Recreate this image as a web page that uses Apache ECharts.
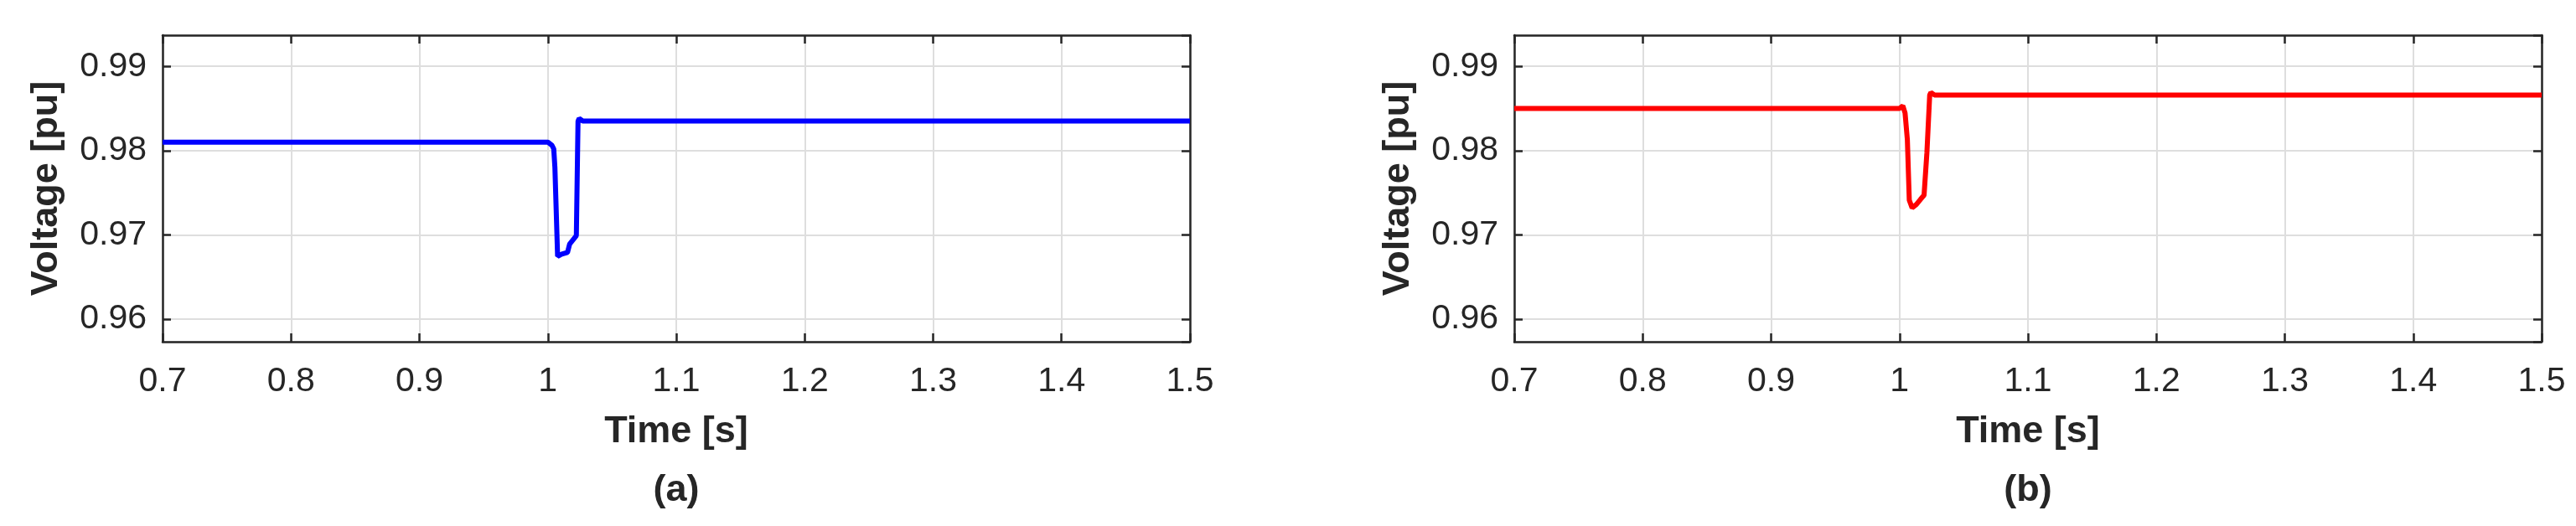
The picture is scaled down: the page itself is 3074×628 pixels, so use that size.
<!DOCTYPE html>
<html>
<head>
<meta charset="utf-8">
<script src="https://cdn.jsdelivr.net/npm/echarts@6/dist/echarts.min.js"></script>
<style>
html,body{margin:0;padding:0;background:#fff;}
#chart{width:3074px;height:628px;}
</style>
</head>
<body>
<div id="chart"></div>
<script>
// ---- data ----
const xTicks = [0.7, 0.8, 0.9, 1.0, 1.1, 1.2, 1.3, 1.4, 1.5];
const yTicks = [0.96, 0.97, 0.98, 0.99];
const panelLabels = ['(a)', '(b)'];
const xTitle = 'Time [s]';
const yTitle = 'Voltage [pu]';

const timeA = [0.7, 1.0, 1.0033, 1.0046, 1.0055, 1.0076, 1.0109, 1.0153, 1.0170, 1.0196, 1.0222, 1.0235, 1.0244, 1.0272, 1.5];
const voltA = [0.9810, 0.9810, 0.9806, 0.9802, 0.9780, 0.96745, 0.9677, 0.9679, 0.9689, 0.9694, 0.9699, 0.98348, 0.9838, 0.9835, 0.9835];

const timeB = [0.7, 1.0, 1.0026, 1.0043, 1.0061, 1.0076, 1.0098, 1.0131, 1.0163, 1.0191, 1.0213, 1.0235, 1.0244, 1.0272, 1.5];
const voltB = [0.9850, 0.9850, 0.9853, 0.98447, 0.9813, 0.9741, 0.9732, 0.9736, 0.9742, 0.9747, 0.9797, 0.9866, 0.9869, 0.9866, 0.9866];

const yMin = 0.9573, yMax = 0.9937;
const colors = ['#0000ff', '#ff0000'];

// ---- chart ----
const FONT = '"Liberation Sans", Arial, Helvetica, sans-serif';
const TXT = '#262626';
const chart = echarts.init(document.getElementById('chart'), null, {renderer: 'canvas'});

const grids = [
  {left: 194, top: 42, width: 1226, height: 366},
  {left: 1807, top: 42, width: 1226, height: 366}
];

function pairs(t, v) { return t.map((x, i) => [x, v[i]]); }

const xAxes = [], yAxes = [], series = [], graphics = [];
grids.forEach((g, gi) => {
  const common = {
    gridIndex: gi,
    axisLine: {show: true, lineStyle: {color: TXT, width: 2.5}},
    axisTick: {show: true, inside: true, length: 10, lineStyle: {color: TXT, width: 2.5}},
  };
  xAxes.push(Object.assign({}, common, {
    type: 'value', position: 'bottom',
    min: xTicks[0], max: xTicks[xTicks.length - 1], interval: 0.1,
    axisLabel: {show: true, margin: 27, color: TXT, fontSize: 41, fontFamily: FONT,
      formatter: v => String(Math.round(v * 10) / 10)},
    splitLine: {show: true, lineStyle: {color: '#dedede', width: 2}},
    name: xTitle, nameLocation: 'middle', nameGap: 85,
    nameTextStyle: {color: TXT, fontSize: 45, fontWeight: 'bold', fontFamily: FONT}
  }));
  xAxes.push(Object.assign({}, common, {
    type: 'value', position: 'top',
    min: xTicks[0], max: xTicks[xTicks.length - 1], interval: 0.1,
    axisLabel: {show: false}, splitLine: {show: false}
  }));
  const yLabelFmt = v => {
    const r = Math.round(v * 100) / 100;
    return (Math.abs(r - v) < 1e-6 && yTicks.some(t => Math.abs(t - r) < 1e-6)) ? r.toFixed(2) : '';
  };
  yAxes.push(Object.assign({}, common, {
    type: 'value', position: 'left', min: yMin, max: yMax, splitNumber: 4,
    axisLabel: {show: true, margin: 19, color: TXT, fontSize: 41, fontFamily: FONT,
      formatter: yLabelFmt, showMinLabel: false, showMaxLabel: false},
    splitLine: {show: true, lineStyle: {color: '#dedede', width: 2}},
    name: yTitle, nameLocation: 'middle', nameGap: 116, nameRotate: 90,
    nameTextStyle: {color: TXT, fontSize: 45, fontWeight: 'bold', fontFamily: FONT}
  }));
  yAxes.push(Object.assign({}, common, {
    type: 'value', position: 'right', min: yMin, max: yMax, splitNumber: 4,
    axisLabel: {show: false}, splitLine: {show: false}
  }));
  graphics.push({
    type: 'text', x: g.left + g.width / 2, y: 586,
    style: {text: panelLabels[gi], fill: TXT, font: 'bold 45px ' + FONT,
      textAlign: 'center', textVerticalAlign: 'middle'}
  });
});

series.push({
  type: 'line', xAxisIndex: 0, yAxisIndex: 0, data: pairs(timeA, voltA),
  showSymbol: false, lineStyle: {color: colors[0], width: 6}, itemStyle: {color: colors[0]},
  animation: false
});
series.push({
  type: 'line', xAxisIndex: 2, yAxisIndex: 2, data: pairs(timeB, voltB),
  showSymbol: false, lineStyle: {color: colors[1], width: 6}, itemStyle: {color: colors[1]},
  animation: false
});

chart.setOption({
  animation: false,
  backgroundColor: '#ffffff',
  grid: grids,
  xAxis: xAxes,
  yAxis: yAxes,
  series: series,
  graphic: graphics
});
</script>
</body>
</html>
